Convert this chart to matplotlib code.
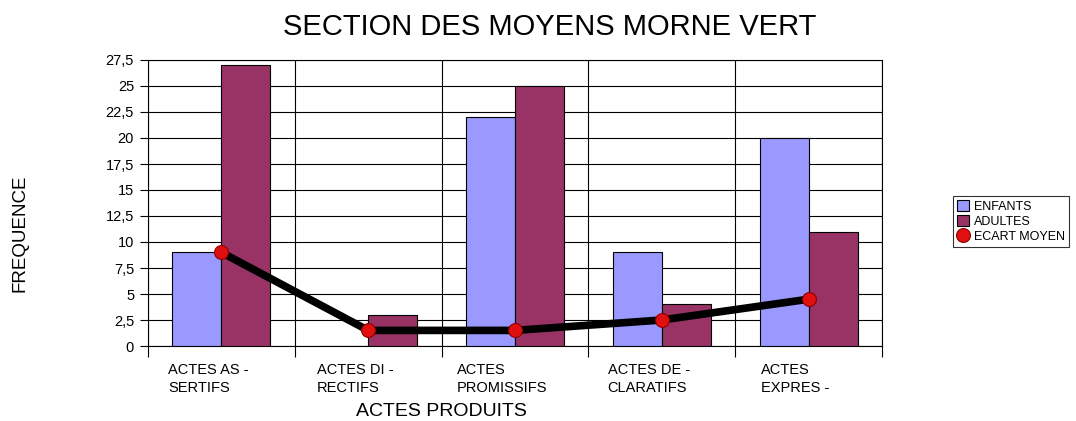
import numpy as np
import matplotlib
matplotlib.use("Agg")
import matplotlib.pyplot as plt
import matplotlib.transforms as mtransforms

plt.rcParams['font.family'] = ['Liberation Sans', 'DejaVu Sans']

categories = ["ACTES AS -\nSERTIFS", "ACTES DI -\nRECTIFS", "ACTES\nPROMISSIFS",
              "ACTES DE -\nCLARATIFS", "ACTES\nEXPRES -"]
enfants = [9, 0, 22, 9, 20]
adultes = [27, 3, 25, 4, 11]
ecart_moyen = [9, 1.5, 1.5, 2.5, 4.5]
yticks = np.arange(0, 27.6, 2.5)

fig = plt.figure(figsize=(10.76, 4.21), dpi=100)
ax = fig.add_axes([148/1076, 75/421, 734/1076, 286/421])

x = np.arange(len(categories))
w = 1/3
b1 = ax.bar(x - w/2, enfants, w, color='#9999ff', edgecolor='black', linewidth=0.8,
            label='ENFANTS', zorder=3)
b2 = ax.bar(x + w/2, adultes, w, color='#993366', edgecolor='black', linewidth=0.8,
            label='ADULTES', zorder=3)
ax.plot(x, ecart_moyen, color='black', linewidth=5.5, zorder=4)
m, = ax.plot(x, ecart_moyen, linestyle='none', marker='o', markersize=10,
             markerfacecolor='#e01010', markeredgecolor='#900000', markeredgewidth=0.8,
             label='ECART MOYEN', zorder=5)

ax.set_xlim(-0.5, len(categories) - 0.5)
ax.set_ylim(0, 27.5)

ax.set_yticks(yticks)
ax.set_yticklabels([('%g' % v).replace('.', ',') for v in yticks], fontsize=10.5)
ax.yaxis.grid(True, color='black', linewidth=0.8, zorder=0)
ax.tick_params(axis='y', length=6, width=0.8, direction='out', pad=4)

# category boundaries as ticks + vertical grid
ax.set_xticks(np.arange(-0.5, len(categories)), minor=False)
ax.set_xticklabels([])
ax.xaxis.grid(True, color='black', linewidth=0.8, zorder=0)
ax.tick_params(axis='x', length=8, width=0.8, direction='out')
ax.set_xticks(x, minor=True)
ax.set_xticklabels(categories, minor=True, fontsize=10.5, linespacing=1.35,
                   ha='center', multialignment='left')
ax.tick_params(axis='x', which='minor', length=0, pad=12)
offset = mtransforms.ScaledTranslation(-13/100, 0, fig.dpi_scale_trans)
for lab in ax.get_xticklabels(minor=True):
    lab.set_transform(lab.get_transform() + offset)

for s in ['top', 'right', 'left', 'bottom']:
    ax.spines[s].set_color('black')
    ax.spines[s].set_linewidth(0.8)

fig.text(550/1076, 1 - 27/421, "SECTION DES MOYENS MORNE VERT", fontsize=21,
         ha='center', va='center')
fig.text(20/1076, 1 - 233/421, "FREQUENCE", fontsize=13.5, rotation=90,
         ha='center', va='center')
fig.text(441/1076, 1 - 412/421, "ACTES PRODUITS", fontsize=14,
         ha='center', va='center')

leg = fig.legend(handles=[b1, b2, m], loc='upper left',
                 bbox_to_anchor=(953/1076, 1 - 196/421),
                 fontsize=9, frameon=True, fancybox=False, edgecolor='black',
                 handlelength=1.0, handleheight=1.0, handletextpad=0.4,
                 borderpad=0.3, labelspacing=0.2, borderaxespad=0)
leg.get_frame().set_linewidth(0.8)

fig.savefig('out.png', dpi=100)
